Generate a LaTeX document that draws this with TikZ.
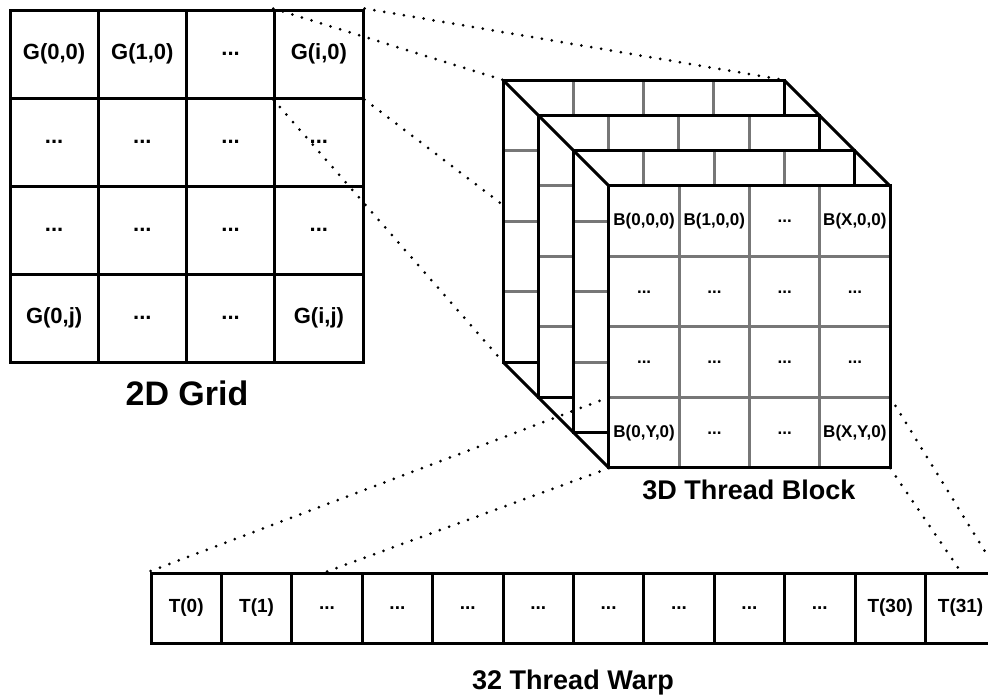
\documentclass[tikz,border=0pt]{standalone}
\usepackage{fontspec}
\setmainfont{Liberation Sans}
\begin{document}
\begin{tikzpicture}[x=1pt,y=-1pt,
  thick3/.style={line width=3pt},
  gcell/.style={draw=black,line width=3pt,minimum width=88.25pt,minimum height=88pt,inner sep=0pt,font=\bfseries\fontsize{22}{26}\selectfont},
  bcell/.style={minimum width=70.25pt,minimum height=70.5pt,inner sep=0pt,font=\bfseries\fontsize{17}{20}\selectfont},
  tcell/.style={draw=black,line width=3pt,minimum width=70.4pt,minimum height=70pt,inner sep=0pt,font=\bfseries\fontsize{19}{22}\selectfont},
  gridgray/.style={line width=3pt,color={rgb,255:red,119;green,119;blue,119}},
  dotline/.style={line width=3pt,dash pattern=on 0pt off 10pt,line cap=round},
  biglabel/.style={font=\bfseries\fontsize{27}{32}\selectfont},
]
\useasboundingbox (0,0) rectangle (988,697);
\clip (0,0) rectangle (988,697);

% ---------- 2D grid ----------
\node[gcell] (g00) at (54.125,54) {G(0,0)};
\node[gcell] (g10) at (142.375,54) {G(1,0)};
\node[gcell] (g20) at (230.625,54) {...};
\node[gcell] (gI0) at (318.875,54) {G(i,0)};
\node[gcell] (g01) at (54.125,142) {...};
\node[gcell] (g11) at (142.375,142) {...};
\node[gcell] (g21) at (230.625,142) {...};
\node[gcell] (g31) at (318.875,142) {...};
\node[gcell] (g02) at (54.125,230) {...};
\node[gcell] (g12) at (142.375,230) {...};
\node[gcell] (g22) at (230.625,230) {...};
\node[gcell] (g32) at (318.875,230) {...};
\node[gcell] (g0J) at (54.125,318) {G(0,j)};
\node[gcell] (g13) at (142.375,318) {...};
\node[gcell] (g23) at (230.625,318) {...};
\node[gcell] (gIJ) at (318.875,318) {G(i,j)};
\node[biglabel,font=\bfseries\fontsize{34}{40}\selectfont] (gridlabel) at (187,393) {2D Grid};

% ---------- 3D block: stacked panels ----------
\foreach \k in {0,1,2,3} {
  \begin{scope}[shift={(503+35.33*\k,80+35.33*\k)}]
    \fill[white] (0,0) rectangle (281,282);
    \foreach \i in {1,2,3} {
      \draw[gridgray] (\i*70.25,0) -- (\i*70.25,282);
      \draw[gridgray] (0,\i*70.5) -- (281,\i*70.5);
    }
    \draw[thick3] (0,0) rectangle (281,282);
  \end{scope}
}
\coordinate (Ptl) at (503,80);
\coordinate (Ptr) at (784,80);
\coordinate (Pbl) at (503,362);
\coordinate (Pml) at (503,205);
\coordinate (Ftl) at (609,186);
\coordinate (Ftr) at (890,186);
\coordinate (Fbl) at (609,468);
\draw[thick3] (Ptl) -- (Ftl);
\draw[thick3] (Ptr) -- (Ftr);
\draw[thick3] (Pbl) -- (Fbl);

% front face labels
\node[bcell] (b00) at (644.125,221.25) {B(0,0,0)};
\node[bcell] (b10) at (714.375,221.25) {B(1,0,0)};
\node[bcell] (b20) at (784.625,221.25) {...};
\node[bcell] (b30) at (854.875,221.25) {B(X,0,0)};
\node[bcell] (b01) at (644.125,291.75) {...};
\node[bcell] (b11) at (714.375,291.75) {...};
\node[bcell] (b21) at (784.625,291.75) {...};
\node[bcell] (b31) at (854.875,291.75) {...};
\node[bcell] (b02) at (644.125,362.25) {...};
\node[bcell] (b12) at (714.375,362.25) {...};
\node[bcell] (b22) at (784.625,362.25) {...};
\node[bcell] (b32) at (854.875,362.25) {...};
\node[bcell] (b03) at (644.125,432.75) {B(0,Y,0)};
\node[bcell] (b13) at (714.375,432.75) {...};
\node[bcell] (b23) at (784.625,432.75) {...};
\node[bcell] (b33) at (854.875,432.75) {B(X,Y,0)};
\node[biglabel] (blocklabel) at (749,490) {3D Thread Block};

% ---------- warp ----------
\node[tcell] (t0) at (186.2,608) {T(0)};
\node[tcell] (t1) at (256.6,608) {T(1)};
\node[tcell] (t2) at (327.0,608) {...};
\node[tcell] (t3) at (397.4,608) {...};
\node[tcell] (t4) at (467.8,608) {...};
\node[tcell] (t5) at (538.2,608) {...};
\node[tcell] (t6) at (608.6,608) {...};
\node[tcell] (t7) at (679.0,608) {...};
\node[tcell] (t8) at (749.4,608) {...};
\node[tcell] (t9) at (819.8,608) {...};
\node[tcell] (t10) at (890.2,608) {T(30)};
\node[tcell] (t11) at (960.6,608) {T(31)};
\node[biglabel] (warplabel) at (573,683) {32 Thread Warp};

% ---------- dotted projection lines ----------
\draw[dotline] (gI0.north west) -- (Ptl);
\draw[dotline] (gI0.north east) -- (Ptr);
\draw[dotline] (gI0.south west) -- (Pbl);
\draw[dotline] (gI0.south east) -- (Pml);
\draw[dotline] (b03.north west) -- (t0.north west);
\draw[dotline] (b03.south west) -- (t2.north);
\draw[dotline] (b33.north east) -- (t11.north east);
\draw[dotline] (b33.south east) -- (t11.north);
\end{tikzpicture}
\end{document}
